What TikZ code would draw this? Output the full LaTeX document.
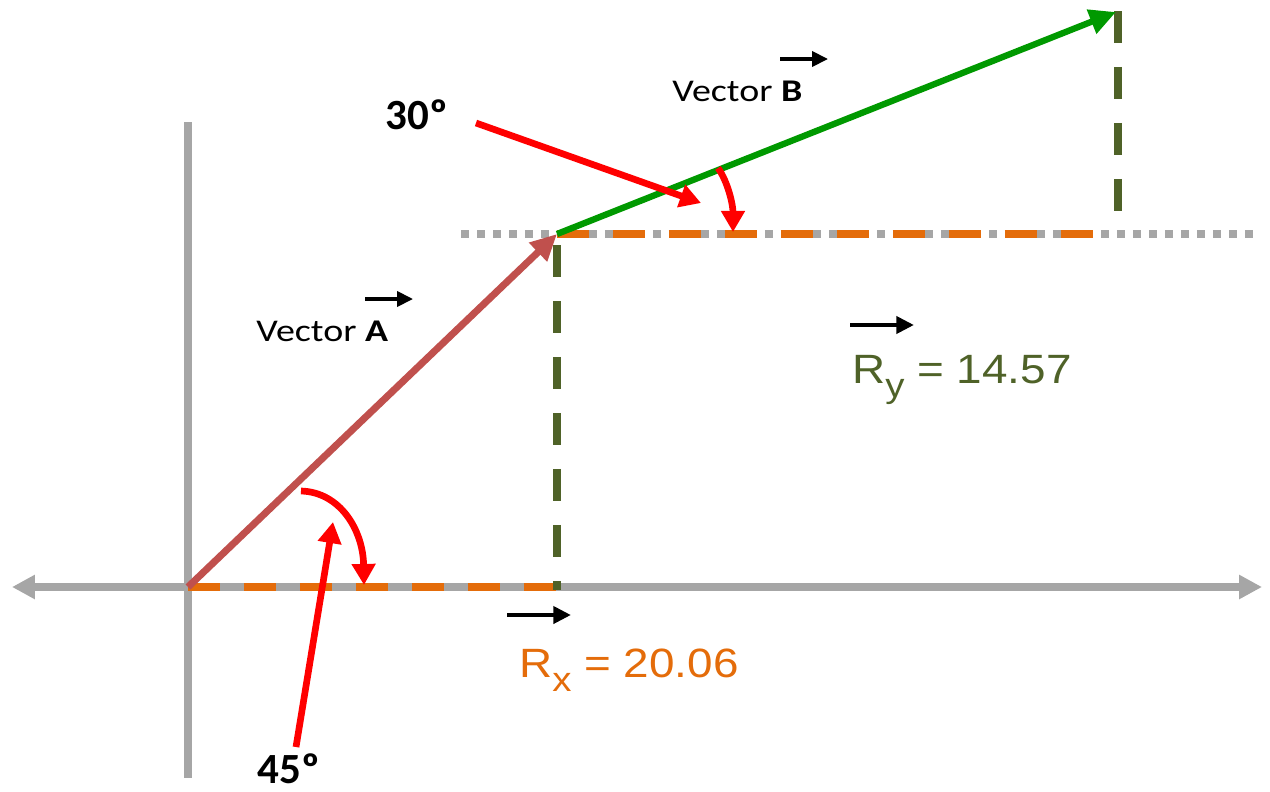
\documentclass[tikz,border=0pt]{standalone}
\usepackage{fontspec}
\setmainfont{Carlito}
\newfontfamily\vecfont[FakeStretch=1.2]{Carlito}
\newfontfamily\compfont[FakeStretch=1.12]{Liberation Sans}
\newcommand{\lowidx}[1]{\raisebox{-8.5pt}{\fontsize{19.5}{22}\selectfont #1}}
\usetikzlibrary{arrows.meta}
\definecolor{axisgray}{RGB}{166,166,166}
\definecolor{vecared}{RGB}{192,80,77}
\definecolor{vecbgreen}{RGB}{0,153,0}
\definecolor{compgreen}{RGB}{79,98,40}
\definecolor{comporange}{RGB}{228,108,10}

\begin{document}
\begin{tikzpicture}[x=0.02cm, y=-0.02cm,
    axis/.style={axisgray, line width=4pt},
    axisarrow/.style={axis, {Triangle[length=13pt,width=13pt]}-{Triangle[length=13pt,width=13pt]}},
    compline/.style={line width=4.4pt, dash pattern=on 0.64cm off 0.48cm},
    dotline/.style={axisgray, line width=4.5pt, dash pattern=on 0.16cm off 0.16cm},
    vecarrow/.style={line width=4pt, -{Triangle[length=15pt,width=14pt]}},
    pointer/.style={red, line width=3.8pt, -{Triangle[length=12pt,width=13pt]}},
    overarrow/.style={black, line width=2pt, -{Triangle[length=9pt,width=8.5pt]}},
    veclabel/.style={anchor=base west, inner sep=0pt, font=\vecfont\fontsize{18}{20}\selectfont},
    complabel/.style={anchor=base west, inner sep=0pt, font=\compfont\fontsize{23.3}{26}\selectfont},
    anglelabel/.style={anchor=base west, inner sep=0pt, font=\bfseries\fontsize{24.5}{27}\selectfont}
  ]
    \useasboundingbox (0,0) rectangle (1270,791);

    \coordinate (O) at (188,587);
    \coordinate (A) at (557,234);
    \coordinate (B) at (1116,12);
    \coordinate (xl) at (12,587);
    \coordinate (xr) at (1262,587);
    \coordinate (yt) at (188,122);
    \coordinate (yb) at (188,778);

    % axes
    \draw[axisarrow] (xl) -- (xr);
    \draw[axis] (yt) -- (yb);

    % components
    \draw[compline, comporange] (O) -- (A |- O);
    \draw[compline, compgreen] (557,245) -- (557,590);
    \draw[dotline] (461,234) -- (1254,234);
    \draw[compline, comporange] (A) -- (1093,234);
    \draw[compline, compgreen] (1118,11) -- (1118,212);

    % vectors
    \draw[vecarrow, vecared] (O) -- (A);
    \draw[vecarrow, vecbgreen, line width=3.6pt] (A) -- (B);

    % labels
    \node[veclabel] (labA) at (256,341) {Vector \textbf{A}};
    \node[veclabel] (labB) at (672,101) {Vector \textbf{B}};
    \node[complabel, compgreen] (labRy) at (852,383) {R\lowidx{y} = 14.57};
    \node[complabel, comporange] (labRx) at (519,677) {R\lowidx{x} = 20.06};
    \node[anglelabel] (lab30) at (385,129) {30º};
    \node[anglelabel] (lab45) at (257,783) {45º};

    \coordinate (arA0) at (365,299);  \coordinate (arA1) at (413,299);
    \coordinate (arB0) at (780,59);   \coordinate (arB1) at (828,59);
    \coordinate (arRy0) at (850,325); \coordinate (arRy1) at (914,325);
    \coordinate (arRx0) at (507,615); \coordinate (arRx1) at (571,615);
    \draw[overarrow] (arA0) -- (arA1);
    \draw[overarrow] (arB0) -- (arB1);
    \draw[overarrow, line width=2.6pt, -{Triangle[length=10pt,width=9.5pt]}] (arRy0) -- (arRy1);
    \draw[overarrow, line width=2.6pt, -{Triangle[length=10pt,width=9.5pt]}] (arRx0) -- (arRx1);

    % angle pointers
    \coordinate (p30) at (476,123);  \coordinate (t30) at (701,203);
    \coordinate (p45) at (296,747);  \coordinate (t45) at (333,522);
    \draw[pointer] (p30) -- (t30);
    \draw[pointer] (p45) -- (t45);
    \draw[pointer] (301,491) .. controls (340,492) and (363,530) .. (364,585);
    \draw[pointer] (718,168) .. controls (728,182) and (733,205) .. (733,232);
  \end{tikzpicture}
\end{document}
